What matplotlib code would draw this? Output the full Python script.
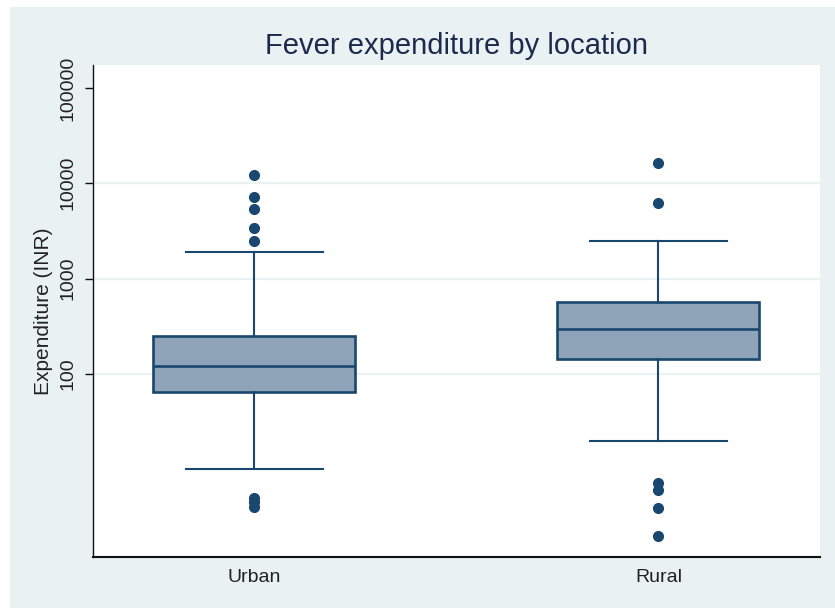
import matplotlib
matplotlib.use("Agg")
import matplotlib.pyplot as plt
from matplotlib.patches import Rectangle
from matplotlib.ticker import FixedLocator, NullLocator, FixedFormatter

# ---- data ----
categories = ["Urban", "Rural"]
q1 = [64, 144]
median = [121, 298]
q3 = [250, 574]
whisker_low = [10, 20]
whisker_high = [1890, 2500]
outliers_urban = [12200, 7150, 5350, 3380, 2490, 5.0, 4.5, 4.0]
outliers_rural = [16500, 6200, 7.1, 6.0, 3.9, 2.0]
y_ticks = [100, 1000, 10000, 100000]
y_tick_labels = ["100", "1000", "10000", "100000"]

title = "Fever expenditure by location"
ylabel = "Expenditure (INR)"

plt.rcParams["font.family"] = ["Liberation Sans", "DejaVu Sans"]

navy = "#1A476F"
fill = "#8FA4B8"
panel = "#EAF1F3"
text_col = "#222222"

fig = plt.figure(figsize=(8.35, 6.08), dpi=100, facecolor="white")
fig.patches.append(Rectangle((10 / 835, 0), 825 / 835, 601 / 608,
                             transform=fig.transFigure, facecolor=panel,
                             edgecolor="none", zorder=-10))

ax = fig.add_axes([92.7 / 835, 1 - 556.7 / 608, (820 - 92.7) / 835, (556.7 - 65) / 608])
ax.set_facecolor("white")

outliers = [outliers_urban, outliers_rural]
stats = []
for i, cat in enumerate(categories):
    stats.append(dict(label=cat, q1=q1[i], med=median[i], q3=q3[i],
                      whislo=whisker_low[i], whishi=whisker_high[i],
                      fliers=outliers[i]))

ax.bxp(stats, positions=[1, 2], widths=0.5, capwidths=0.34, patch_artist=True,
       boxprops=dict(facecolor=fill, edgecolor=navy, linewidth=1.9),
       medianprops=dict(color=navy, linewidth=1.9),
       whiskerprops=dict(color=navy, linewidth=1.5),
       capprops=dict(color=navy, linewidth=1.5),
       flierprops=dict(marker="o", markerfacecolor=navy, markeredgecolor=navy,
                       markersize=7, linestyle="none"),
       zorder=3)

ax.set_yscale("log")
ax.set_ylim(1.21, 174000)
ax.set_xlim(0.6, 2.4)
ax.yaxis.set_major_locator(FixedLocator(y_ticks))
ax.yaxis.set_major_formatter(FixedFormatter(y_tick_labels))
ax.yaxis.set_minor_locator(NullLocator())

ax.grid(axis="y", color=panel, linewidth=1.6, zorder=0)
ax.set_axisbelow(True)
gl = ax.yaxis.get_gridlines()
gl[-1].set_visible(False)

for s in ["top", "right"]:
    ax.spines[s].set_visible(False)
ax.spines["left"].set_color("#111111")
ax.spines["left"].set_linewidth(1.0)
ax.spines["bottom"].set_color("#111111")
ax.spines["bottom"].set_linewidth(1.5)

ax.tick_params(axis="y", which="major", direction="out", length=6, width=1.0,
               color="#111111", labelsize=14, labelcolor=text_col, pad=6)
for lab in ax.get_yticklabels():
    lab.set_rotation(90)
    lab.set_va("center")
ax.tick_params(axis="x", length=0, labelsize=14, labelcolor=text_col, pad=9)

ax.set_ylabel(ylabel, fontsize=15, color=text_col)
ax.yaxis.set_label_coords(-0.055, 0.5)

ax.set_title(title, fontsize=21, color="#1C2A4E", pad=8)

fig.savefig("out.png", dpi=100, facecolor="white")
